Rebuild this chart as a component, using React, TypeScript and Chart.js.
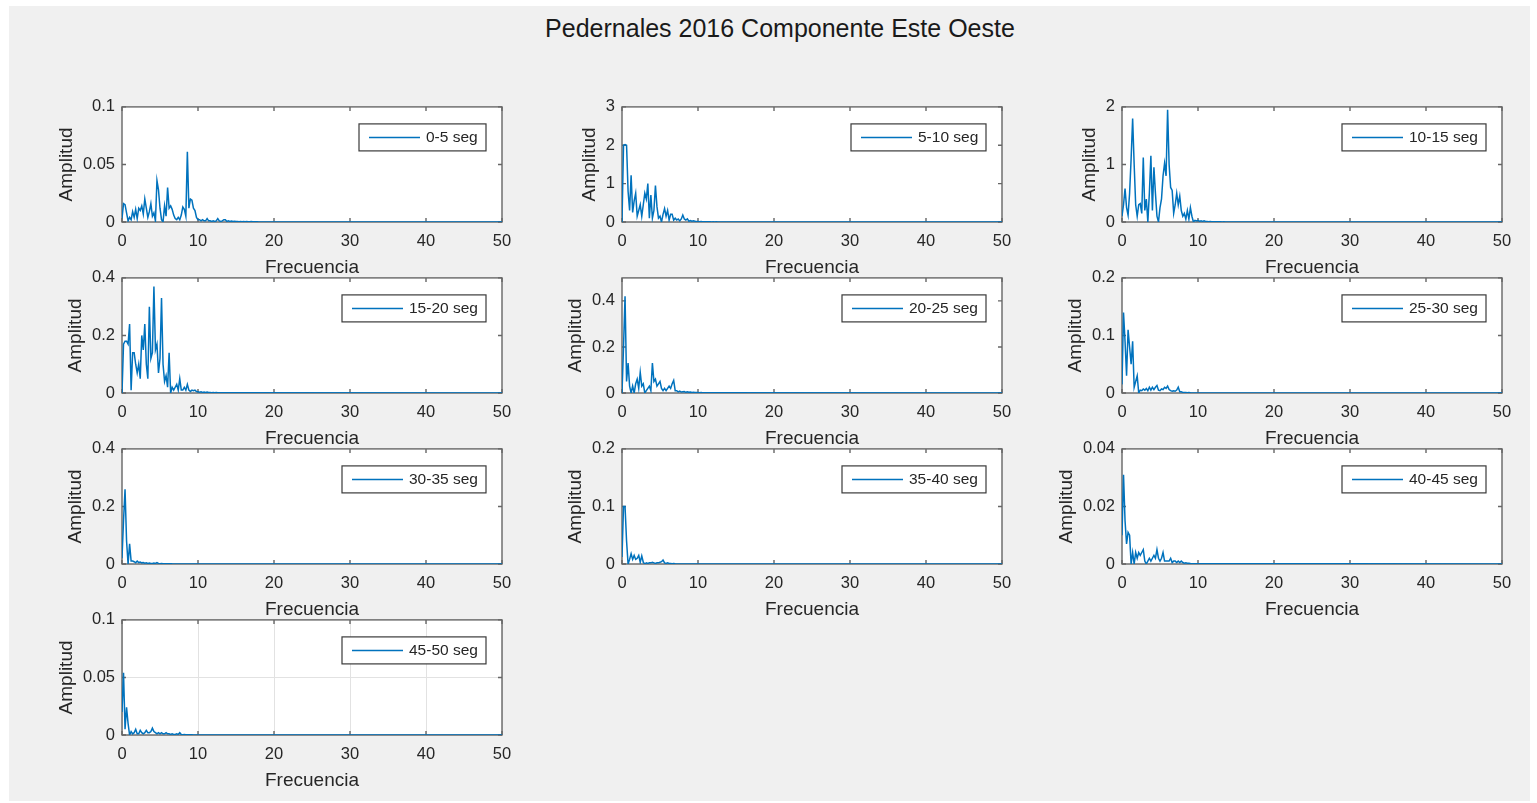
import React, { useEffect, useRef } from "react";
import { Chart, registerables } from "chart.js";

Chart.register(...registerables);

// ---------------- Data ----------------
const figureTitle = "Pedernales 2016 Componente Este Oeste";
const xAxisTitle = "Frecuencia";
const yAxisTitle = "Amplitud";
const xTickValues = [0, 10, 20, 30, 40, 50];
const freqStep = 0.2; // Hz between spectrum samples
const freqEnd = 50;

const segLabels = [
  "0-5 seg",
  "5-10 seg",
  "10-15 seg",
  "15-20 seg",
  "20-25 seg",
  "25-30 seg",
  "30-35 seg",
  "35-40 seg",
  "40-45 seg",
  "45-50 seg",
];

const yMaxes = [0.1, 3, 2, 0.4, 0.5, 0.2, 0.4, 0.2, 0.04, 0.1];

const yTickSets = [
  [0, 0.05, 0.1],
  [0, 1, 2, 3],
  [0, 1, 2],
  [0, 0.2, 0.4],
  [0, 0.2, 0.4],
  [0, 0.1, 0.2],
  [0, 0.2, 0.4],
  [0, 0.1, 0.2],
  [0, 0.02, 0.04],
  [0, 0.05, 0.1],
];

const amp00_05 = [
  0.003, 0.016, 0.015, 0.008, 0.001, 0.004, 0.002, 0.009, 0.004, 0.011,
  0.003, 0.012, 0.01, 0.014, 0.007, 0.02, 0.012, 0.004, 0.009, 0.016,
  0.005, 0.008, 0.001, 0.036, 0.028, 0.012, 0.002, 0.0, 0.014, 0.005,
  0.03, 0.012, 0.014, 0.011, 0.006, 0.003, 0.002, 0.004, 0.002, 0.006,
  0.013, 0.011, 0.005, 0.061, 0.012, 0.02, 0.019, 0.012, 0.01, 0.004,
  0.002, 0.002, 0.001, 0.002, 0.001, 0.001, 0.003, 0.001, 0.001, 0.0005,
  0.001, 0.0005, 0.001, 0.003, 0.001, 0.0005, 0.001, 0.002, 0.002, 0.0005,
  0.001, 0.0005, 0.0008, 0.0004, 0.0006, 0.0004, 0.0005, 0.0003, 0.0004, 0.0003,
  0.0004, 0.0003, 0.0005, 0.0002, 0.0003, 0.0004, 0.0002, 0.0003, 0.0002, 0.0003, 0.0001,
];

const amp05_10 = [
  0.0, 2.0, 2.02, 2.0, 0.8, 0.3, 1.22, 0.25, 0.55, 0.75,
  0.15, 0.3, 0.45, 0.15, 0.45, 0.75, 0.6, 1.0, 0.1, 0.7,
  0.1, 0.3, 0.95, 0.4, 0.1, 0.15, 0.0, 0.2, 0.35, 0.15,
  0.3, 0.05, 0.2, 0.2, 0.05, 0.1, 0.05, 0.08, 0.03, 0.08,
  0.18, 0.08, 0.05, 0.08, 0.02, 0.04, 0.02, 0.03, 0.02, 0.01,
  0.01, 0.008, 0.012, 0.006, 0.008, 0.005, 0.007, 0.004, 0.005, 0.003,
  0.004, 0.003, 0.004, 0.002, 0.003, 0.002, 0.002, 0.001, 0.002, 0.001,
];

const amp10_15 = [
  0.1, 0.3, 0.58, 0.25, 0.12, 0.5, 1.1, 1.8, 1.0, 0.3,
  0.1, 0.3, 0.32, 0.15, 1.12, 0.2, 0.4, 0.0, 0.5, 1.15,
  0.2, 0.95, 0.5, 0.1, 0.0, 0.25, 0.4, 0.8, 1.02, 0.8,
  1.95, 1.0, 0.6, 0.55, 0.15, 0.3, 0.5, 0.3, 0.45, 0.2,
  0.1, 0.15, 0.05, 0.2, 0.05, 0.25, 0.1, 0.0, 0.03, 0.02,
  0.03, 0.01, 0.02, 0.01, 0.02, 0.01, 0.01, 0.005, 0.01, 0.005,
  0.006, 0.004, 0.005, 0.003, 0.004, 0.003, 0.002, 0.003, 0.002, 0.002,
];

const amp15_20 = [
  0.0, 0.17, 0.18, 0.18, 0.17, 0.24, 0.01, 0.14, 0.14, 0.1,
  0.07, 0.1, 0.05, 0.2, 0.15, 0.24, 0.1, 0.05, 0.3, 0.12,
  0.14, 0.37, 0.15, 0.17, 0.07, 0.12, 0.33, 0.1, 0.04, 0.06,
  0.02, 0.14, 0.0, 0.02, 0.01, 0.02, 0.03, 0.01, 0.05, 0.01,
  0.01, 0.02, 0.01, 0.03, 0.01, 0.005, 0.01, 0.008, 0.01, 0.005,
  0.004, 0.003, 0.004, 0.002, 0.003, 0.002, 0.003, 0.002, 0.002, 0.001,
  0.002, 0.001, 0.002, 0.001, 0.001,
];

const amp20_25 = [
  0.0, 0.2, 0.42, 0.05, 0.13, 0.03, 0.0, 0.03, 0.0, 0.04,
  0.06, 0.02, 0.09, 0.03, 0.04, 0.0, 0.01, 0.02, 0.03, 0.01,
  0.13, 0.05, 0.06, 0.03, 0.04, 0.05, 0.02, 0.01, 0.02, 0.01,
  0.02, 0.03, 0.02, 0.04, 0.055, 0.01, 0.01, 0.005, 0.008, 0.004,
  0.005, 0.006, 0.003, 0.005, 0.003, 0.004, 0.002, 0.003, 0.002, 0.002,
  0.002, 0.001, 0.002, 0.001, 0.001,
];

const amp25_30 = [
  0.015, 0.14, 0.09, 0.03, 0.11, 0.08, 0.05, 0.09, 0.01, 0.02,
  0.03, 0.0, 0.005, 0.004, 0.007, 0.005, 0.008, 0.004, 0.01, 0.005,
  0.01, 0.006, 0.01, 0.013, 0.005, 0.004, 0.007, 0.006, 0.01, 0.008,
  0.012, 0.006, 0.004, 0.003, 0.004, 0.003, 0.005, 0.01, 0.002, 0.002,
  0.001, 0.001, 0.001, 0.0005, 0.001, 0.0005,
];

const amp30_35 = [
  0.02, 0.15, 0.26, 0.08, 0.0, 0.07, 0.01, 0.01, 0.008, 0.004,
  0.01, 0.005, 0.007, 0.004, 0.005, 0.003, 0.004, 0.002, 0.003, 0.002,
  0.002, 0.003, 0.002, 0.005, 0.002, 0.001, 0.002, 0.001, 0.001, 0.001,
  0.001, 0.0005, 0.001, 0.0005,
];

const amp35_40 = [
  0.012, 0.1, 0.1, 0.04, 0.0, 0.008, 0.018, 0.008, 0.015, 0.008,
  0.01, 0.015, 0.003, 0.014, 0.003, 0.0, 0.002, 0.001, 0.002, 0.002,
  0.003, 0.002, 0.001, 0.002, 0.002, 0.003, 0.004, 0.007, 0.002, 0.001,
  0.002, 0.001, 0.001, 0.0005, 0.001, 0.0005,
];

const amp40_45 = [
  0.01, 0.031, 0.015, 0.007, 0.011, 0.01, 0.0, 0.004, 0.0, 0.004,
  0.002, 0.004, 0.003, 0.004, 0.005, 0.001, 0.0, 0.001, 0.002, 0.001,
  0.002, 0.003, 0.002, 0.005, 0.002, 0.001, 0.002, 0.004, 0.001, 0.001,
  0.001, 0.001, 0.002, 0.0005, 0.001, 0.001, 0.0005, 0.001, 0.0005, 0.001,
  0.0005, 0.0003, 0.0004, 0.0003, 0.0003, 0.0002,
];

const amp45_50 = [
  0.02, 0.054, 0.005, 0.024, 0.01, 0.0, 0.003, 0.001, 0.002, 0.005,
  0.001, 0.001, 0.004, 0.002, 0.001, 0.002, 0.004, 0.002, 0.002, 0.003,
  0.006, 0.003, 0.002, 0.001, 0.002, 0.001, 0.002, 0.001, 0.001, 0.002,
  0.001, 0.001, 0.0005, 0.001, 0.0005, 0.0005, 0.001, 0.0005, 0.002, 0.0005,
  0.0003, 0.0004, 0.0003, 0.0002, 0.0003, 0.0002, 0.0002, 0.0001,
];

const seriesList = [
  amp00_05,
  amp05_10,
  amp10_15,
  amp15_20,
  amp20_25,
  amp25_30,
  amp30_35,
  amp35_40,
  amp40_45,
  amp45_50,
];

// ---------------- Styling / layout ----------------
const FONT = '"Liberation Sans", Arial, Helvetica, sans-serif';
const LINE_COLOR = "#0072BD";
const TEXT_COLOR = "#262626";
const FRAME_COLOR = "#666666";
const PLOT_W = 380;
const PLOT_H = 118;
const colLefts = [122, 622, 1122];
const rowTops = [104, 275, 446, 617];
const PAD_L = 80;
const PAD_R = 20;
const PAD_T = 14;
const PAD_B = 62;
const TICK_FONT = 16.5;
const LABEL_FONT = 19;
const LEGEND_FONT = 15.5;

function fmt(v: number) {
  return String(v);
}

let measureCtx: CanvasRenderingContext2D | null = null;
function measure(text: string, size: number) {
  if (!measureCtx) measureCtx = document.createElement("canvas").getContext("2d");
  if (!measureCtx) return text.length * size * 0.55;
  measureCtx.font = `${size}px ${FONT}`;
  return measureCtx.measureText(text).width;
}

const matlabAxesPlugin = {
  id: "matlabAxes",
  beforeDraw(chart: any) {
    const { ctx, chartArea: a } = chart;
    ctx.save();
    ctx.fillStyle = "#ffffff";
    ctx.fillRect(a.left, a.top, a.right - a.left, a.bottom - a.top);
    ctx.restore();
  },
  beforeDatasetsDraw(chart: any, _args: any, opts: any) {
    const { ctx, chartArea: a, scales } = chart;
    ctx.save();
    ctx.strokeStyle = FRAME_COLOR;
    ctx.lineWidth = 1.4;
    ctx.strokeRect(a.left, a.top, a.right - a.left, a.bottom - a.top);
    const tl = 4;
    ctx.beginPath();
    for (const v of xTickValues) {
      const px = scales.x.getPixelForValue(v);
      ctx.moveTo(px, a.bottom);
      ctx.lineTo(px, a.bottom - tl);
      ctx.moveTo(px, a.top);
      ctx.lineTo(px, a.top + tl);
    }
    for (const v of opts.yTicks as number[]) {
      const py = scales.y.getPixelForValue(v);
      ctx.moveTo(a.left, py);
      ctx.lineTo(a.left + tl, py);
      ctx.moveTo(a.right, py);
      ctx.lineTo(a.right - tl, py);
    }
    ctx.stroke();
    ctx.restore();
  },
  afterDraw(chart: any, _args: any, opts: any) {
    const { ctx, chartArea: a } = chart;
    ctx.save();
    ctx.font = `${LEGEND_FONT}px ${FONT}`;
    const tw = ctx.measureText(opts.label).width;
    const h = 27;
    const w = 10 + 51 + 6 + tw + 8;
    const right = a.right - 16;
    const left = Math.round(right - w);
    const top = a.top + 17;
    ctx.fillStyle = "#ffffff";
    ctx.fillRect(left, top, right - left, h);
    ctx.strokeStyle = "#3a3a3a";
    ctx.lineWidth = 1.2;
    ctx.strokeRect(left, top, right - left, h);
    ctx.strokeStyle = LINE_COLOR;
    ctx.lineWidth = 1.5;
    ctx.beginPath();
    ctx.moveTo(left + 10, top + h / 2);
    ctx.lineTo(left + 61, top + h / 2);
    ctx.stroke();
    ctx.fillStyle = TEXT_COLOR;
    ctx.textBaseline = "middle";
    ctx.textAlign = "left";
    ctx.fillText(opts.label, left + 67, top + h / 2 + 0.5);
    ctx.restore();
  },
};

function SubPlot({ index }: { index: number }) {
  const ref = useRef<HTMLCanvasElement | null>(null);
  const col = index % 3;
  const row = Math.floor(index / 3);
  const left = colLefts[col] - PAD_L;
  const top = rowTops[row] - PAD_T;
  const width = PLOT_W + PAD_L + PAD_R;
  const height = PLOT_H + PAD_T + PAD_B;

  useEffect(() => {
    const canvas = ref.current;
    if (!canvas) return;
    const values = seriesList[index];
    const points = values.map((y, i) => ({ x: Math.round(i * freqStep * 100) / 100, y }));
    points.push({ x: freqEnd, y: 0 });
    const yTicks = yTickSets[index];
    const yMax = yMaxes[index];
    const labelW = Math.max(...yTicks.map((v) => measure(fmt(v), TICK_FONT)));
    const titleCenter = PAD_L - (labelW + 7 + 7 + LABEL_FONT / 2);
    const titlePadTop = Math.max(0, titleCenter - LABEL_FONT / 2);
    const showGrid = index === 9;

    const chart = new Chart(canvas, {
      type: "line",
      data: {
        datasets: [
          {
            label: segLabels[index],
            data: points,
            borderColor: LINE_COLOR,
            backgroundColor: LINE_COLOR,
            borderWidth: 1.5,
            pointRadius: 0,
            tension: 0,
            fill: false,
          },
        ],
      },
      options: {
        animation: false,
        responsive: false,
        maintainAspectRatio: false,
        devicePixelRatio: 1,
        events: [],
        layout: { padding: { left: 0, top: PAD_T, right: PAD_R, bottom: 0 } },
        plugins: {
          legend: { display: false },
          tooltip: { enabled: false },
          matlabAxes: { yTicks, label: segLabels[index] },
        } as any,
        scales: {
          x: {
            type: "linear",
            min: 0,
            max: freqEnd,
            afterBuildTicks: (s: any) => {
              s.ticks = xTickValues.map((v) => ({ value: v }));
            },
            afterFit: (s: any) => {
              s.height = PAD_B;
            },
            ticks: {
              autoSkip: false,
              maxRotation: 0,
              padding: 10,
              color: TEXT_COLOR,
              font: { family: FONT, size: TICK_FONT },
              callback: (v: any) => fmt(Number(v)),
            },
            grid: { display: showGrid, drawTicks: false, color: "#e2e2e2", lineWidth: 1 },
            border: { display: false },
            title: {
              display: true,
              text: xAxisTitle,
              color: TEXT_COLOR,
              font: { family: FONT, size: LABEL_FONT, lineHeight: 1 },
              padding: { top: 0, bottom: 7 },
            },
          },
          y: {
            type: "linear",
            min: 0,
            max: yMax,
            afterBuildTicks: (s: any) => {
              s.ticks = yTicks.map((v) => ({ value: v }));
            },
            afterFit: (s: any) => {
              s.width = PAD_L;
            },
            ticks: {
              autoSkip: false,
              padding: 7,
              color: TEXT_COLOR,
              font: { family: FONT, size: TICK_FONT },
              callback: (v: any) => fmt(Number(v)),
            },
            grid: { display: showGrid, drawTicks: false, color: "#e2e2e2", lineWidth: 1 },
            border: { display: false },
            title: {
              display: true,
              text: yAxisTitle,
              color: TEXT_COLOR,
              font: { family: FONT, size: LABEL_FONT, lineHeight: 1 },
              padding: { top: titlePadTop, bottom: 0 },
            },
          },
        },
      } as any,
      plugins: [matlabAxesPlugin as any],
    });
    return () => chart.destroy();
  }, [index]);

  return (
    <canvas
      ref={ref}
      width={width}
      height={height}
      style={{ position: "absolute", left, top, width, height }}
    />
  );
}

export default function App() {
  return (
    <div
      style={{
        position: "fixed",
        left: 0,
        top: 0,
        width: 1537,
        height: 803,
        background: "#ffffff",
        overflow: "hidden",
      }}
    >
      <div
        style={{
          position: "absolute",
          left: 9,
          top: 6,
          width: 1521,
          height: 795,
          background: "#f0f0f0",
        }}
      />
      <div
        style={{
          position: "absolute",
          left: 380,
          top: 16,
          width: 800,
          textAlign: "center",
          fontFamily: FONT,
          fontSize: 25,
          lineHeight: "25px",
          color: "#1a1a1a",
          whiteSpace: "nowrap",
        }}
      >
        {figureTitle}
      </div>
      {segLabels.map((_, i) => (
        <SubPlot key={i} index={i} />
      ))}
    </div>
  );
}
